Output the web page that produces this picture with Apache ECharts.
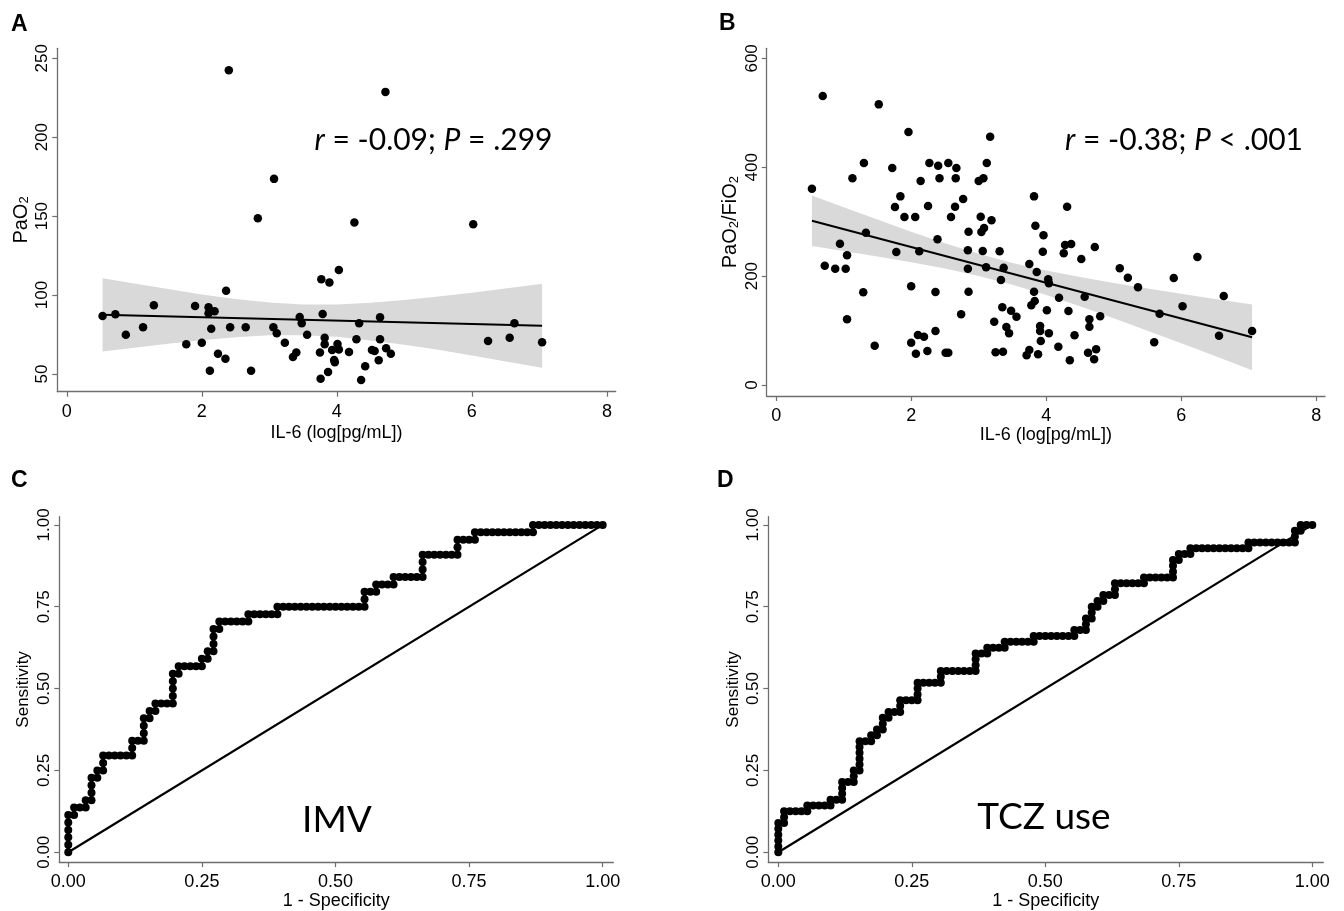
<!DOCTYPE html>
<html>
<head>
<meta charset="utf-8">
<script src="https://cdn.jsdelivr.net/npm/echarts@6/dist/echarts.min.js"></script>
<style>html,body{margin:0;padding:0;background:#fff}#c{width:1344px;height:911px}</style>
</head>
<body>
<div id="c"></div>
<script>
// ---------- Panel A: IL-6 vs PaO2 ----------
const ptsA = [[0.53,86.8],[0.72,87.8],[0.875,74.9],[1.13,79.6],[1.29,93.5],[1.77,68.8],[1.90,93.1],[2.0,69.8],[2.10,92.3],[2.10,88.5],[2.19,89.7],[2.14,78.7],[2.12,52.1],[2.24,62.9],[2.35,59.7],[2.36,102.8],[2.40,242.4],[2.42,79.6],[2.65,79.6],[2.73,52.1],[2.83,148.7],[3.07,173.6],[3.06,79.6],[3.11,75.8],[3.23,69.8],[3.35,60.8],[3.40,63.7],[3.45,86.1],[3.48,82.1],[3.56,74.9],[3.75,63.7],[3.76,47.0],[3.77,110],[3.79,88],[3.82,73],[3.82,68.8],[3.87,51.3],[3.89,107.9],[3.93,65.2],[4.72,228.7],[4.26,145.9],[6.02,144.9],[4.03,115.9],[4.64,85.9],[4.33,82.1],[6.63,82.1],[6.24,70.9],[6.56,73],[7.04,70.1],[4.29,72],[4.64,72],[4.01,69],[4.03,65.6],[4.18,64],[4.52,65.2],[4.56,64.6],[4.73,66.3],[4.80,62.9],[3.96,58.9],[3.97,57.5],[4.62,58.7],[4.42,54.9],[4.36,46.2]];
const fitA = [[0.53,87.5],[7.04,80.5]];
const bandAx = [0.53,1.0,1.5,2.0,2.5,3.0,3.5,4.0,4.5,5.0,5.5,6.0,6.5,7.04];
const bandAup = [110.7,107.3,103.8,100.4,97.5,95.3,94.0,94.0,95.1,96.9,99.1,101.5,104.2,107.1];
const bandAlo = [64.2,66.7,69.2,71.4,73.3,74.5,74.6,73.6,71.3,68.5,65.3,61.7,58.0,53.9];

// ---------- Panel B: IL-6 vs PaO2/FiO2 ----------
const ptsB = [[0.53,360.6],[0.69,531],[0.72,219],[0.875,213.7],[0.945,259.6],[1.03,213.7],[1.05,238.2],[1.05,120.6],[1.13,379.6],[1.29,170.2],[1.30,407.8],[1.33,279.8],[1.46,72.2],[1.52,515.5],[1.72,398.6],[1.76,327],[1.78,244.3],[1.84,346.5],[1.90,308.6],[1.96,464.7],[2.0,181.3],[2.0,77.7],[2.06,308.6],[2.07,57.5],[2.10,91.8],[2.12,245.6],[2.14,374.7],[2.19,88.7],[2.24,62.4],[2.25,328.8],[2.27,407.8],[2.36,99.2],[2.36,170.8],[2.39,267.6],[2.40,402.9],[2.42,379.6],[2.51,59.3],[2.55,59.3],[2.55,407.8],[2.59,308.6],[2.65,327.6],[2.66,379.6],[2.67,398.6],[2.74,129.8],[2.77,341.7],[2.85,281.6],[2.84,247.4],[2.84,213.7],[2.85,171.4],[3.0,374.7],[3.07,379.6],[3.03,309.2],[3.04,281],[3.08,288.4],[3.06,246.1],[3.11,216.2],[3.12,407.8],[3.17,456.1],[3.19,302.5],[3.23,116.3],[3.25,60],[3.31,245.6],[3.33,192.9],[3.35,142.7],[3.36,61.2],[3.37,215.5],[3.41,106.5],[3.45,95],[3.48,136.5],[3.56,125.5],[3.71,54.5],[3.75,64.3],[3.75,222.3],[3.78,146.4],[3.82,346.5],[4.31,327.6],[3.84,292.6],[3.96,274.9],[3.95,244.9],[4.28,257.2],[4.37,259],[4.26,242],[4.72,253.5],[4.52,231.4],[3.86,207.6],[4.03,194.2],[4.04,186.8],[5.09,214.4],[5.21,197.1],[5.36,179.5],[5.89,196.5],[6.24,235.1],[6.63,163.5],[6.02,144.6],[5.68,131],[5.60,78.4],[6.56,90.6],[7.05,99.2],[3.82,171.4],[3.83,154.3],[4.19,160.4],[4.57,162.2],[4.01,137.2],[4.33,135.9],[4.64,120.6],[4.64,107.1],[4.80,126.2],[3.91,108.4],[3.91,99.2],[4.04,95],[4.42,91.3],[3.92,80.8],[4.18,70.4],[3.88,56.4],[4.35,45.4],[4.62,59.3],[4.74,65.6],[4.71,47.2]];
const fitB = [[0.53,301.8],[7.05,87.6]];
const bandBx = [0.53,1.0,1.5,2.0,2.5,3.0,3.5,4.0,4.5,5.0,5.5,6.0,6.5,7.05];
const bandBup = [348.3,326.5,303.8,281.5,260.3,241.0,224.3,210.3,198.3,187.5,177.4,167.6,158.2,147.9];
const bandBlo = [255.3,246.3,236.2,225.5,213.9,200.4,184.3,165.3,144.5,122.5,99.8,76.6,53.2,27.3];

// ---------- Panel C: ROC for IMV (cumulative false/true positive counts at staircase corners) ----------
const nNegC = 92, nPosC = 44;
const fpC = [0,0,1,1,3,3,4,4,5,5,6,6,11,11,13,13,14,14,15,15,18,18,19,19,23,23,24,24,25,25,26,26,31,31,36,36,51,51,53,53,56,56,61,61,67,67,70,70,80,80,92];
const tpC = [0,5,5,6,6,7,7,10,10,11,11,13,13,15,15,18,18,19,19,20,20,24,24,25,25,26,26,27,27,30,30,31,31,32,32,33,33,35,35,36,36,37,37,40,40,42,42,43,43,44,44];

// ---------- Panel D: ROC for TCZ use ----------
const nNegD = 92, nPosD = 56;
const fpD = [0,0,1,1,5,5,9,9,11,11,13,13,14,14,16,16,17,17,18,18,19,19,21,21,24,24,28,28,34,34,36,36,39,39,44,44,51,51,53,53,54,54,55,55,56,56,58,58,63,63,68,68,69,69,71,71,81,81,89,89,90,90,92];
const tpD = [0,5,5,7,7,8,8,9,9,12,12,14,14,19,19,20,20,21,21,23,23,24,24,26,26,29,29,31,31,34,34,35,35,36,36,37,37,38,38,40,40,42,42,43,43,44,44,46,46,47,47,50,50,51,51,52,52,53,53,55,55,56,56];

const diag = [[0,0],[1,1]];
const ticksIL6 = [0,2,4,6,8];
const ticksPaO2 = [50,100,150,200,250];
const ticksRatio = [0,200,400,600];
const ticksROC = [0,0.25,0.5,0.75,1];

// one point per observation: each step of the staircase adds one case
function rocPoints(fp, tp, nNeg, nPos) {
  const out = [[fp[0]/nNeg, tp[0]/nPos]];
  for (let i = 1; i < fp.length; i++) {
    const dx = fp[i]-fp[i-1], dy = tp[i]-tp[i-1];
    const n = Math.max(Math.abs(dx), Math.abs(dy));
    for (let k = 1; k <= n; k++) out.push([(fp[i-1]+dx*k/n)/nNeg, (tp[i-1]+dy*k/n)/nPos]);
  }
  return out;
}
function bandData(xs, up, lo) {
  const d = [];
  xs.forEach((x,i)=>d.push([x, up[i]]));
  for (let i = xs.length-1; i >= 0; i--) d.push([xs[i], lo[i]]);
  return d;
}

const AX = '#6e6e6e';
const FONT = 'Liberation Sans';
function xAxisCfg(grid, min, max, ticks, name, gap, fmt) {
  return {type:'value', gridIndex:grid, min:min, max:max,
    axisLine:{onZero:false, lineStyle:{color:AX, width:1.3}},
    axisTick:{customValues:ticks, length:5, lineStyle:{color:AX, width:1.2}},
    axisLabel:{customValues:ticks, margin:11, color:'#000', fontFamily:FONT, fontSize:18, formatter:fmt},
    splitLine:{show:false},
    name:name, nameLocation:'middle', nameGap:gap,
    nameTextStyle:{color:'#000', fontFamily:FONT, fontSize:18}};
}
function yAxisCfg(grid, min, max, ticks, name, gap, fmt, nameSize) {
  return {type:'value', gridIndex:grid, min:min, max:max,
    axisLine:{onZero:false, lineStyle:{color:AX, width:1.3}},
    axisTick:{customValues:ticks, length:5, lineStyle:{color:AX, width:1.2}},
    axisLabel:{customValues:ticks, rotate:90, margin:6, color:'#000', fontFamily:FONT, fontSize:17, formatter:fmt},
    splitLine:{show:false},
    name:name, nameLocation:'middle', nameRotate:90, nameGap:gap,
    nameTextStyle:{color:'#000', fontFamily:FONT, fontSize:nameSize,
      rich:{s:{fontFamily:FONT, fontSize:13, verticalAlign:'bottom', lineHeight:14, padding:[0,0,0,0]}}}};
}
const f2 = v => v.toFixed(2);
const f0 = v => String(v);

function bandSeries(xi, data) {
  return {type:'custom', xAxisIndex:xi, yAxisIndex:xi, data:data, z:1, silent:true,
    renderItem:function(params, api){
      if (params.dataIndex !== 0) return null;
      const pts = data.map(p => api.coord(p));
      return {type:'polygon', shape:{points:pts}, style:{fill:'#d9d9d9'}};
    }};
}

const option = {
  animation:false,
  backgroundColor:'#fff',
  grid:[
    {left:57.3, top:48.3, width:558.4, height:343.4},
    {left:766.7, top:48.3, width:558.3, height:347.7},
    {left:59.3, top:516.7, width:554, height:350},
    {left:768.3, top:516.7, width:555, height:350}
  ],
  xAxis:[
    xAxisCfg(0, -0.14, 8.13, ticksIL6, 'IL-6 (log[pg/mL])', 32, f0),
    xAxisCfg(1, -0.14, 8.13, ticksIL6, 'IL-6 (log[pg/mL])', 30, f0),
    xAxisCfg(2, -0.0168, 1.0198, ticksROC, '1 - Specificity', 28, f2),
    xAxisCfg(3, -0.0187, 1.0206, ticksROC, '1 - Specificity', 28, f2)
  ],
  yAxis:[
    yAxisCfg(0, 38.8, 256.3, ticksPaO2, 'PaO{s|2}', 26, f0, 20),
    yAxisCfg(1, -20.2, 618.5, ticksRatio, 'PaO{s|2}/FiO{s|2}', 26, f0, 20),
    yAxisCfg(2, -0.0301, 1.025, ticksROC, 'Sensitivity', 27, f2, 17),
    yAxisCfg(3, -0.0301, 1.025, ticksROC, 'Sensitivity', 26, f2, 17)
  ],
  series:[
    bandSeries(0, bandData(bandAx, bandAup, bandAlo)),
    {type:'line', xAxisIndex:0, yAxisIndex:0, data:fitA, showSymbol:false, z:3, lineStyle:{color:'#000', width:2}},
    {type:'scatter', xAxisIndex:0, yAxisIndex:0, data:ptsA, symbolSize:8.5, z:4, itemStyle:{color:'#000', opacity:1}},
    bandSeries(1, bandData(bandBx, bandBup, bandBlo)),
    {type:'line', xAxisIndex:1, yAxisIndex:1, data:fitB, showSymbol:false, z:3, lineStyle:{color:'#000', width:2}},
    {type:'scatter', xAxisIndex:1, yAxisIndex:1, data:ptsB, symbolSize:8.5, z:4, itemStyle:{color:'#000', opacity:1}},
    {type:'line', xAxisIndex:2, yAxisIndex:2, data:diag, showSymbol:false, z:2, lineStyle:{color:'#000', width:2.2}},
    {type:'line', xAxisIndex:2, yAxisIndex:2, data:rocPoints(fpC,tpC,nNegC,nPosC), symbol:'circle', symbolSize:8, showAllSymbol:true, z:3,
      itemStyle:{color:'#000', borderWidth:0}, lineStyle:{color:'#000', width:3.5}},
    {type:'line', xAxisIndex:3, yAxisIndex:3, data:diag, showSymbol:false, z:2, lineStyle:{color:'#000', width:2.2}},
    {type:'line', xAxisIndex:3, yAxisIndex:3, data:rocPoints(fpD,tpD,nNegD,nPosD), symbol:'circle', symbolSize:8, showAllSymbol:true, z:3,
      itemStyle:{color:'#000', borderWidth:0}, lineStyle:{color:'#000', width:3.5}}
  ],
  graphic:[
    {type:'text', x:11, y:25, style:{text:'A', font:'bold 23px "Liberation Sans"', fill:'#000', verticalAlign:'middle', textVerticalAlign:'middle'}},
    {type:'text', x:719, y:24, style:{text:'B', font:'bold 23px "Liberation Sans"', fill:'#000', verticalAlign:'middle', textVerticalAlign:'middle'}},
    {type:'text', x:11, y:481, style:{text:'C', font:'bold 23px "Liberation Sans"', fill:'#000', verticalAlign:'middle', textVerticalAlign:'middle'}},
    {type:'text', x:717, y:481, style:{text:'D', font:'bold 23px "Liberation Sans"', fill:'#000', verticalAlign:'middle', textVerticalAlign:'middle'}},
    {type:'text', x:433.5, y:140, style:{text:'{i|r} = -0.09; {i|P} = .299', fontFamily:'Lato', fontSize:30, fill:'#000',
      align:'center', verticalAlign:'middle', textAlign:'center', textVerticalAlign:'middle',
      rich:{i:{fontFamily:'Lato', fontSize:30, fontStyle:'italic'}}}},
    {type:'text', x:1184, y:140, style:{text:'{i|r} = -0.38; {i|P} < .001', fontFamily:'Lato', fontSize:30, fill:'#000',
      align:'center', verticalAlign:'middle', textAlign:'center', textVerticalAlign:'middle',
      rich:{i:{fontFamily:'Lato', fontSize:30, fontStyle:'italic'}}}},
    {type:'text', x:337, y:820, style:{text:'IMV', fontFamily:'Lato', fontSize:37, fill:'#000',
      align:'center', verticalAlign:'middle', textAlign:'center', textVerticalAlign:'middle'}},
    {type:'text', x:1044, y:817, style:{text:'TCZ use', fontFamily:'Lato', fontSize:37, fill:'#000',
      align:'center', verticalAlign:'middle', textAlign:'center', textVerticalAlign:'middle'}}
  ]
};
const chart = echarts.init(document.getElementById('c'), null, {renderer:'canvas'});
chart.setOption(option);
</script>
</body>
</html>
